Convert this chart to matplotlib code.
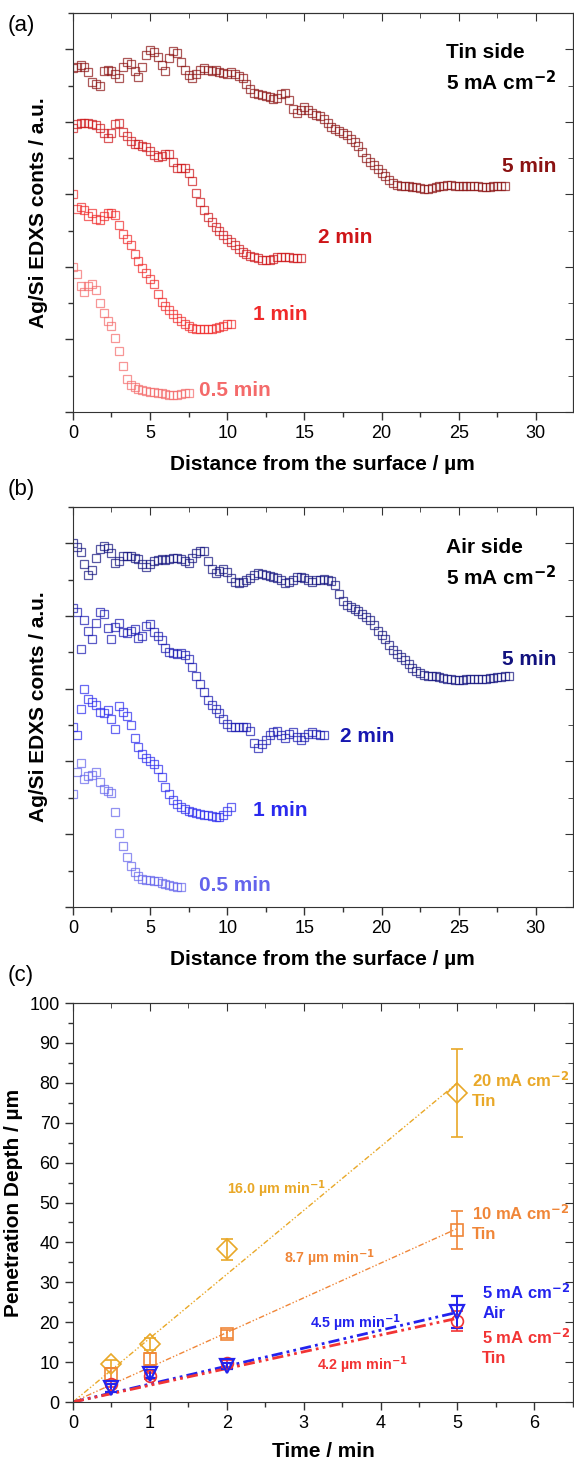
import numpy as np
import matplotlib
matplotlib.use("Agg")
import matplotlib.pyplot as plt
from matplotlib.ticker import MultipleLocator, NullFormatter

plt.rcParams['font.family'] = ['Liberation Sans', 'DejaVu Sans']
plt.rcParams['mathtext.default'] = 'regular'

# EDXS line scans, step along the depth axis (um)
step = 0.25

# (a) tin side, 5 mA cm-2
tin_5min = [4.74, 4.76, 4.78, 4.75, 4.68, 4.55, 4.52, 4.50, 4.70, 4.72, 4.70, 4.66, 4.61,
            4.75, 4.83, 4.80, 4.70, 4.62, 4.75, 4.92, 4.99, 4.96, 4.90, 4.78, 4.70, 4.88,
            4.98, 4.95, 4.82, 4.72, 4.64, 4.60, 4.66, 4.72, 4.74, 4.72, 4.70, 4.71, 4.68,
            4.67, 4.66, 4.68, 4.66, 4.63, 4.60, 4.52, 4.45, 4.40, 4.38, 4.37, 4.36, 4.34,
            4.31, 4.33, 4.39, 4.40, 4.30, 4.18, 4.12, 4.16, 4.20, 4.16, 4.12, 4.10, 4.08,
            4.04, 3.98, 3.93, 3.90, 3.88, 3.85, 3.82, 3.77, 3.72, 3.66, 3.58, 3.50, 3.45,
            3.40, 3.35, 3.30, 3.25, 3.20, 3.16, 3.13, 3.12, 3.12, 3.11, 3.10, 3.10, 3.09,
            3.08, 3.08, 3.09, 3.10, 3.11, 3.12, 3.13, 3.13, 3.12, 3.12, 3.11, 3.11, 3.12,
            3.12, 3.11, 3.10, 3.10, 3.10, 3.11, 3.11, 3.11, 3.11]
tin_2min = [3.91, 3.97, 3.99, 3.98, 3.98, 3.97, 3.95, 3.92, 3.85, 3.78, 3.84, 3.97, 3.99,
            3.86, 3.80, 3.74, 3.70, 3.69, 3.66, 3.65, 3.60, 3.54, 3.52, 3.53, 3.55, 3.56,
            3.45, 3.36, 3.36, 3.36, 3.30, 3.18, 3.02, 2.90, 2.78, 2.69, 2.62, 2.55, 2.49,
            2.44, 2.39, 2.34, 2.30, 2.25, 2.21, 2.18, 2.15, 2.13, 2.12, 2.10, 2.09, 2.10,
            2.11, 2.13, 2.14, 2.14, 2.13, 2.12, 2.12, 2.12]
tin_1min = [3.01, 2.80, 2.83, 2.78, 2.70, 2.74, 2.66, 2.64, 2.70, 2.74, 2.74, 2.72, 2.58,
            2.46, 2.38, 2.30, 2.18, 2.08, 1.99, 1.92, 1.84, 1.76, 1.62, 1.52, 1.46, 1.40,
            1.35, 1.30, 1.25, 1.21, 1.18, 1.16, 1.15, 1.15, 1.14, 1.15, 1.15, 1.16, 1.17,
            1.19, 1.21, 1.22]
tin_05min = [2.00, 1.90, 1.74, 1.65, 1.74, 1.76, 1.68, 1.50, 1.36, 1.25, 1.18, 1.02, 0.84,
             0.64, 0.45, 0.37, 0.34, 0.32, 0.30, 0.29, 0.28, 0.27, 0.26, 0.26, 0.25, 0.24,
             0.23, 0.24, 0.25, 0.26, 0.26]

# (b) air side, 5 mA cm-2
air_5min = [5.00, 4.95, 4.88, 4.72, 4.57, 4.63, 4.80, 4.92, 4.96, 4.94, 4.86, 4.73, 4.76,
            4.82, 4.83, 4.82, 4.80, 4.78, 4.72, 4.68, 4.72, 4.76, 4.77, 4.78, 4.77, 4.79,
            4.80, 4.80, 4.79, 4.76, 4.73, 4.80, 4.86, 4.90, 4.90, 4.75, 4.64, 4.59, 4.62,
            4.64, 4.60, 4.52, 4.47, 4.45, 4.47, 4.50, 4.52, 4.56, 4.59, 4.58, 4.56, 4.55,
            4.54, 4.52, 4.50, 4.46, 4.47, 4.50, 4.53, 4.54, 4.52, 4.49, 4.47, 4.49, 4.50,
            4.51, 4.50, 4.48, 4.42, 4.30, 4.20, 4.15, 4.12, 4.10, 4.07, 4.03, 3.98, 3.94,
            3.88, 3.80, 3.74, 3.68, 3.60, 3.53, 3.48, 3.44, 3.40, 3.34, 3.29, 3.24, 3.21,
            3.19, 3.18, 3.17, 3.17, 3.16, 3.15, 3.14, 3.13, 3.12, 3.12, 3.12, 3.13, 3.13,
            3.14, 3.14, 3.13, 3.14, 3.15, 3.15, 3.16, 3.16, 3.17, 3.17]
air_2min = [4.11, 4.05, 3.55, 3.95, 3.80, 3.68, 3.90, 4.06, 4.03, 3.83, 3.68, 3.85, 3.90,
            3.78, 3.76, 3.80, 3.82, 3.70, 3.72, 3.86, 3.89, 3.78, 3.72, 3.67, 3.56, 3.50,
            3.49, 3.48, 3.49, 3.46, 3.41, 3.30, 3.18, 3.06, 2.96, 2.84, 2.77, 2.72, 2.66,
            2.58, 2.51, 2.48, 2.47, 2.48, 2.47, 2.48, 2.42, 2.25, 2.19, 2.24, 2.30, 2.36,
            2.40, 2.42, 2.36, 2.32, 2.38, 2.40, 2.34, 2.30, 2.34, 2.38, 2.40, 2.38, 2.36,
            2.37]
air_1min = [2.48, 2.36, 2.72, 3.00, 2.86, 2.82, 2.77, 2.68, 2.66, 2.71, 2.58, 2.45, 2.76,
            2.68, 2.62, 2.50, 2.32, 2.20, 2.10, 2.05, 2.01, 1.96, 1.89, 1.78, 1.65, 1.55,
            1.47, 1.42, 1.38, 1.35, 1.32, 1.30, 1.29, 1.28, 1.27, 1.26, 1.25, 1.24, 1.24,
            1.26, 1.32, 1.38]
air_05min = [1.55, 1.85, 1.98, 1.76, 1.80, 1.82, 1.86, 1.72, 1.62, 1.60, 1.57, 1.30, 1.02,
             0.84, 0.68, 0.56, 0.48, 0.42, 0.38, 0.37, 0.37, 0.36, 0.35, 0.33, 0.31, 0.30,
             0.29, 0.28, 0.28]

red_colors = ['#8B1212', '#CE1518', '#F02A2A', '#F46A6A']
blue_colors = ['#12127E', '#1717B0', '#2A2AEE', '#6464EC']
scan_labels = ['5 min', '2 min', '1 min', '0.5 min']
label_pos = [(27.8, 3.39), (15.9, 2.40), (11.65, 1.34), (8.15, 0.30)]
label_pos_b = [(27.8, 3.40), (17.3, 2.34), (11.65, 1.33), (8.15, 0.30)]

# (c) penetration depth
time = [0.5, 1, 2, 5]
tin20 = [9.5, 14.5, 38.3, 77.5]
tin20_err = [1.0, 1.5, 2.6, 11.0]
tin10 = [7.0, 10.8, 17.0, 43.2]
tin10_err = [1.5, 1.5, 1.0, 4.8]
air5 = [3.5, 7.0, 9.0, 22.5]
air5_err = [1.0, 1.0, 0.8, 4.0]
tin5 = [4.5, 6.5, 9.7, 20.3]
tin5_err = [0.8, 0.8, 0.8, 2.4]
slopes = [16.0, 8.7, 4.5, 4.2]

fig = plt.figure(figsize=(5.74, 14.6), dpi=100)
TICK_FS = 13
LAB_FS = 15
YLAB_FS = 15


def style_axes(ax, xmaj, xmin, ymaj, ymin, ylabels=True):
    ax.xaxis.set_major_locator(MultipleLocator(xmaj))
    ax.xaxis.set_minor_locator(MultipleLocator(xmin))
    ax.yaxis.set_major_locator(MultipleLocator(ymaj))
    ax.yaxis.set_minor_locator(MultipleLocator(ymin))
    ax.tick_params(which='both', direction='out', labelsize=TICK_FS, width=1, color='#333333')
    ax.tick_params(which='major', length=6)
    ax.tick_params(which='minor', length=3.5)
    if not ylabels:
        ax.yaxis.set_major_formatter(NullFormatter())
    for s in ax.spines.values():
        s.set_color('#333333')
    top = ax.secondary_xaxis('top')
    top.xaxis.set_major_locator(MultipleLocator(xmaj))
    top.xaxis.set_minor_locator(MultipleLocator(xmin))
    top.tick_params(which='both', direction='in', labeltop=False, color='#333333')
    top.tick_params(which='major', length=6)
    top.tick_params(which='minor', length=3.5)
    top.spines['top'].set_color('#333333')
    right = ax.secondary_yaxis('right')
    right.yaxis.set_major_locator(MultipleLocator(ymaj))
    right.yaxis.set_minor_locator(MultipleLocator(ymin))
    right.tick_params(which='both', direction='in', labelright=False, color='#333333')
    right.tick_params(which='major', length=6)
    right.tick_params(which='minor', length=3.5)
    right.spines['right'].set_color('#333333')


def scans(ax, series, colors, positions):
    for y, c, lab, (tx, ty) in zip(series, colors, scan_labels, positions):
        x = np.arange(len(y)) * step
        ax.plot(x, y, ls='none', marker='s', ms=6, mfc='none', mec=c, mew=0.9, alpha=0.7)
        ax.text(tx, ty, lab, color=c, fontsize=15, fontweight='bold', ha='left', va='center')


# ---- (a)
ax1 = fig.add_axes([0.127, 0.7178, 0.871, 0.2733])
scans(ax1, [tin_5min, tin_2min, tin_1min, tin_05min], red_colors, label_pos)
ax1.set_xlim(0, 32.4)
ax1.set_ylim(0, 5.5)
style_axes(ax1, 5, 2.5, 1, 0.5, ylabels=False)
ax1.text(24.2, 4.96, 'Tin side', fontsize=15, fontweight='bold', va='center')
ax1.text(24.2, 4.55, '5 mA cm$^{\\mathbf{-2}}$', fontsize=15, fontweight='bold', va='center')
ax1.set_xlabel('Distance from the surface / \u00b5m', fontsize=LAB_FS, fontweight='bold')
ax1.set_ylabel('Ag/Si EDXS conts / a.u.', fontsize=YLAB_FS, fontweight='bold')
ax1.xaxis.set_label_coords(0.5, -0.108)
ax1.yaxis.set_label_coords(-0.05, 0.5)

# ---- (b)
ax2 = fig.add_axes([0.127, 0.3788, 0.871, 0.274])
scans(ax2, [air_5min, air_2min, air_1min, air_05min], blue_colors, label_pos_b)
ax2.set_xlim(0, 32.4)
ax2.set_ylim(0, 5.5)
style_axes(ax2, 5, 2.5, 1, 0.5, ylabels=False)
ax2.text(24.2, 4.94, 'Air side', fontsize=15, fontweight='bold', va='center')
ax2.text(24.2, 4.54, '5 mA cm$^{\\mathbf{-2}}$', fontsize=15, fontweight='bold', va='center')
ax2.set_xlabel('Distance from the surface / \u00b5m', fontsize=LAB_FS, fontweight='bold')
ax2.set_ylabel('Ag/Si EDXS conts / a.u.', fontsize=YLAB_FS, fontweight='bold')
ax2.xaxis.set_label_coords(0.5, -0.1075)
ax2.yaxis.set_label_coords(-0.05, 0.5)

# ---- (c)
ax3 = fig.add_axes([0.127, 0.0397, 0.871, 0.2733])
c_gold, c_orange, c_blue, c_red = '#E9A828', '#F08638', '#2323EE', '#F23434'
t_fit = np.array([0, 5])
fit_style = [(c_gold, 1.0), (c_orange, 1.0), (c_blue, 2.0), (c_red, 2.0)]
for k, (c, lw) in zip(slopes, fit_style):
    ax3.plot(t_fit, k * t_fit, color=c, lw=lw, ls=(0, (4, 1.5, 1, 1.5, 1, 1.5)))
ax3.errorbar(time, tin20, yerr=tin20_err, fmt='D', ms=10, mfc='none', mec=c_gold, mew=1.2,
             ecolor=c_gold, elinewidth=1.2, capsize=4.5)
ax3.errorbar(time, tin10, yerr=tin10_err, fmt='s', ms=8.5, mfc='none', mec=c_orange, mew=1.2,
             ecolor=c_orange, elinewidth=1.2, capsize=4.5)
ax3.errorbar(time, tin5, yerr=tin5_err, fmt='o', ms=8.5, mfc='none', mec=c_red, mew=1.2,
             ecolor=c_red, elinewidth=1.2, capsize=4.5)
ax3.errorbar(time, air5, yerr=air5_err, fmt='v', ms=10, mfc='none', mec=c_blue, mew=1.6,
             ecolor=c_blue, elinewidth=1.4, capsize=4.5)
ax3.set_xlim(0, 6.5)
ax3.set_ylim(0, 100)
style_axes(ax3, 1, 0.5, 10, 5)

fs = 12
ax3.text(5.19, 80.7, '20 mA cm$^{\\mathbf{-2}}$', color=c_gold, fontsize=fs, fontweight='bold', va='center')
ax3.text(5.19, 75.2, 'Tin', color=c_gold, fontsize=fs, fontweight='bold', va='center')
ax3.text(5.19, 47.4, '10 mA cm$^{\\mathbf{-2}}$', color=c_orange, fontsize=fs, fontweight='bold', va='center')
ax3.text(5.19, 41.9, 'Tin', color=c_orange, fontsize=fs, fontweight='bold', va='center')
ax3.text(5.32, 27.6, '5 mA cm$^{\\mathbf{-2}}$', color=c_blue, fontsize=fs, fontweight='bold', va='center')
ax3.text(5.32, 22.3, 'Air', color=c_blue, fontsize=fs, fontweight='bold', va='center')
ax3.text(5.32, 16.3, '5 mA cm$^{\\mathbf{-2}}$', color=c_red, fontsize=fs, fontweight='bold', va='center')
ax3.text(5.32, 11.0, 'Tin', color=c_red, fontsize=fs, fontweight='bold', va='center')

slope_pos = [(2.01, 53.4), (2.75, 36.1), (3.08, 19.8), (3.17, 9.3)]
for k, c, (tx, ty) in zip(slopes, [c_gold, c_orange, c_blue, c_red], slope_pos):
    ax3.text(tx, ty, '%.1f \u00b5m min$^{\\mathbf{-1}}$' % k, color=c, fontsize=10.3,
             fontweight='bold', va='center')

ax3.set_xlabel('Time / min', fontsize=LAB_FS, fontweight='bold')
ax3.set_ylabel('Penetration Depth / \u00b5m', fontsize=YLAB_FS, fontweight='bold')
ax3.xaxis.set_label_coords(0.5, -0.10)
ax3.yaxis.set_label_coords(-0.10, 0.5)

for lab, ypx in [('(a)', 25), ('(b)', 490), ('(c)', 975)]:
    fig.text(8 / 574, 1 - ypx / 1460, lab, fontsize=16, va='center', ha='left')

fig.savefig('out.png', dpi=100)
